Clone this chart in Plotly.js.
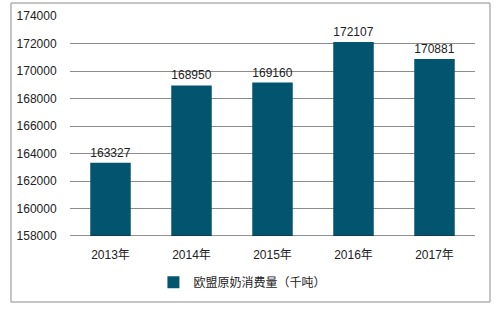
<!DOCTYPE html>
<html><head><meta charset="utf-8">
<script src="https://cdn.plot.ly/plotly-3.0.1.min.js"></script>
<style>html,body{margin:0;padding:0;background:#fff;}#chart{width:501px;height:309px;}</style>
</head><body><div id="chart"></div>
<script>
const categories = ["2013年","2014年","2015年","2016年","2017年"];
const values = [163327,168950,169160,172107,170881];
const seriesName = "欧盟原奶消费量（千吨）";
const yTicks = [158000,160000,162000,164000,166000,168000,170000,172000,174000];

const font = "Liberation Sans, Arial, Noto Sans CJK SC, sans-serif";
Plotly.newPlot('chart', [{
  type:'bar', x:categories, y:values, name:seriesName,
  marker:{color:'#03546E'}, width:0.5,
  text:values.map(String), textposition:'outside', cliponaxis:false,
  textfont:{family:font,size:12,color:'#222'}
}], {
  width:501, height:309,
  margin:{l:70,r:26,t:16,b:73},
  paper_bgcolor:'#fff', plot_bgcolor:'#fff',
  font:{family:font,size:12,color:'#222'},
  showlegend:true,
  legend:{orientation:'h',x:0.206,xanchor:'left',y:-0.21,yanchor:'middle',font:{family:font,size:12,color:'#222'}},
  xaxis:{showgrid:false,showline:false,ticks:'outside',ticklen:8,tickcolor:'rgba(0,0,0,0)',tickfont:{family:font,size:12,color:'#222'},zeroline:false},
  yaxis:{range:[158000,174000],tickvals:yTicks,ticktext:yTicks.map(String),showgrid:true,gridcolor:'#8c8c8c',gridwidth:1,
    zeroline:false,showline:false,ticks:'outside',ticklen:10,tickcolor:'rgba(0,0,0,0)',
    tickfont:{family:font,size:12,color:'#222'}},
  shapes:[
    {type:'line',xref:'paper',yref:'y',x0:0,x1:1,y0:158000,y1:158000,line:{color:'#222',width:1}},
    {type:'rect',xref:'paper',yref:'paper',x0:-0.1457,x1:1.037,y0:-0.3,y1:1.059,line:{color:'#8c8c8c',width:1},layer:'below'}
  ]
}, {displayModeBar:false, staticPlot:true});
</script></body></html>
